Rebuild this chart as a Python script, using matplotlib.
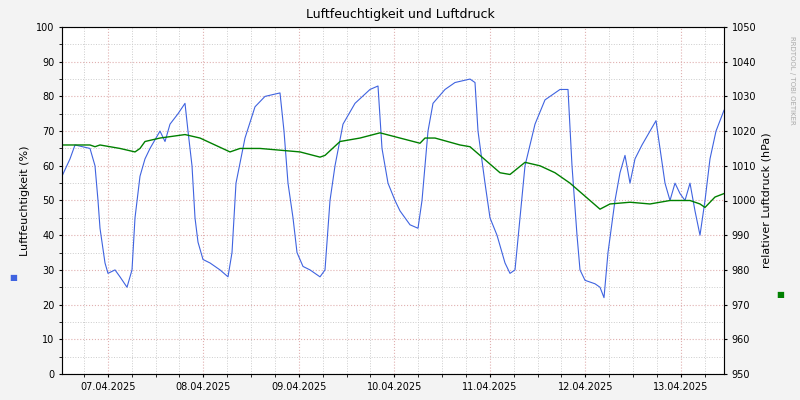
import matplotlib
matplotlib.use("Agg")
import matplotlib.pyplot as plt
import numpy as np

# pixel-x positions converted to hours since chart start
hum_x = [62,70,75,90,95,98,100,105,108,115,120,127,132,135,140,145,150,160,165,170,178,185,188,192,195,198,203,210,220,228,232,236,245,255,265,280,284,288,293,297,303,310,320,325,330,335,343,355,370,378,382,388,395,400,410,418,422,428,433,445,455,470,475,478,485,490,497,505,510,515,520,525,535,545,560,568,572,577,580,585,595,600,604,608,615,620,625,630,635,642,650,656,660,665,670,675,680,685,690,695,700,705,710,716,724]
hum_v = [57,62,66,65,60,50,42,32,29,30,28,25,30,45,57,62,65,70,67,72,75,78,70,60,45,38,33,32,30,28,35,55,68,77,80,81,70,55,45,35,31,30,28,30,50,60,72,78,82,83,65,55,50,47,43,42,50,70,78,82,84,85,84,70,55,45,40,32,29,30,45,60,72,79,82,82,60,40,30,27,26,25,22,35,50,58,63,55,62,66,70,73,65,55,50,55,52,50,55,47,40,50,62,70,76]
pre_x = [62,90,95,100,120,135,140,145,160,185,200,215,230,240,260,280,300,320,325,340,360,380,400,420,425,435,460,470,480,500,510,525,540,555,570,590,600,610,630,650,670,690,700,705,715,724]
pre_v = [1016,1016,1015.5,1016,1015,1014,1015,1017,1018,1019,1018,1016,1014,1015,1015,1014.5,1014,1012.5,1013,1017,1018,1019.5,1018,1016.5,1018,1018,1016,1015.5,1013,1008,1007.5,1011,1010,1008,1005,1000,997.5,999,999.5,999,1000,1000,999,998,1001,1002]
day_labels = ["07.04.2025","08.04.2025","09.04.2025","10.04.2025","11.04.2025","12.04.2025","13.04.2025"]

def hrs(xs): return [(x-62)/95.5*24 for x in xs]
hx, px = hrs(hum_x), hrs(pre_x)
tmax = (724-62)/95.5*24

fig = plt.figure(figsize=(8,4), dpi=100, facecolor="#f3f3f3")
ax = fig.add_axes([62/800, 26/400, 662/800, 347/400])
ax.set_facecolor("white")
ax.plot(hx, hum_v, color="#3f63e0", lw=0.8)
ax.set_xlim(0, tmax); ax.set_ylim(0, 100)
ax.set_yticks(range(0, 101, 10))
ax.set_yticks(range(0, 101, 5), minor=True)
start = 0.48*24
ax.set_xticks([start + 24*i for i in range(7)])
ax.set_xticklabels(day_labels)
ax.set_xticks(np.arange(start % 6, tmax, 6), minor=True)
ax.grid(True, which="both", color="#cccccc", ls=":", lw=0.7)
ax.grid(True, which="major", color="#e0b0b0", ls=":", lw=0.8)
ax.tick_params(labelsize=7, length=2)
ax.set_ylabel("Luftfeuchtigkeit (%)", fontsize=8)
for s in ax.spines.values(): s.set_color("#999999")
ax2 = ax.twinx()
ax2.plot(px, pre_v, color="#008000", lw=1)
ax2.set_ylim(950, 1050)
ax2.set_yticks(range(950, 1051, 10))
ax2.tick_params(labelsize=7, length=2)
ax2.set_ylabel("relativer Luftdruck (hPa)", fontsize=8)
fig.text(0.5, 0.955, "Luftfeuchtigkeit und Luftdruck", ha="center", fontsize=9)
fig.text(0.012, 0.30, "■", color="#3f63e0", fontsize=6)
fig.text(0.970, 0.258, "■", color="#008000", fontsize=6)
fig.text(0.99, 0.8, "RRDTOOL / TOBI OETIKER", rotation=270, fontsize=5, color="#aaaaaa", ha="center", va="center")
fig.savefig("out.png", dpi=100, facecolor=fig.get_facecolor())
